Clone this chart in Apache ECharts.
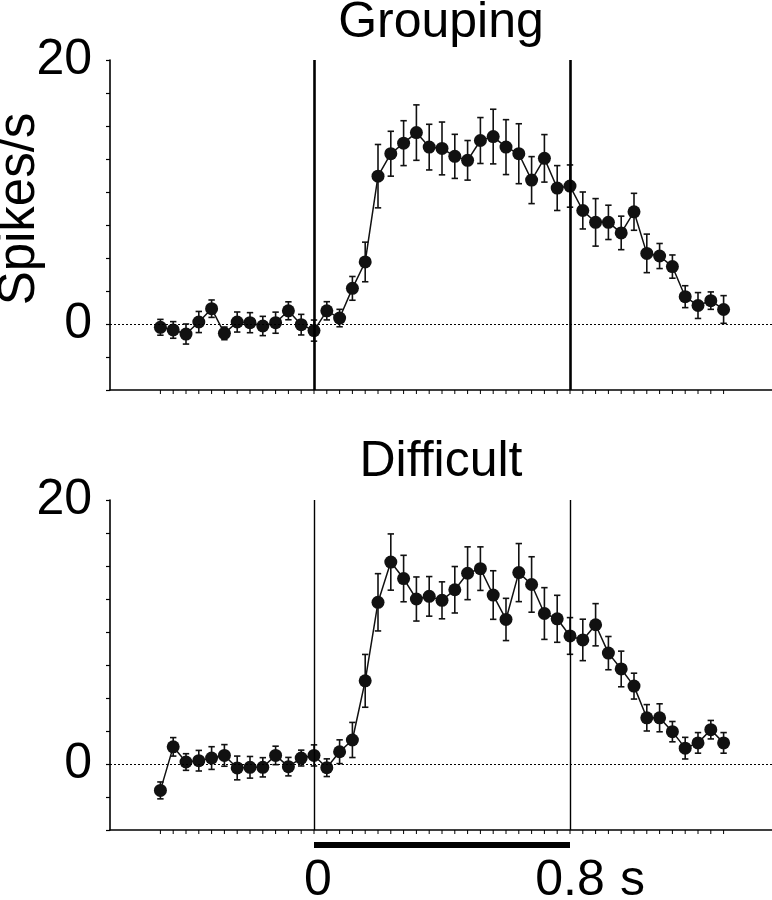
<!DOCTYPE html>
<html>
<head>
<meta charset="utf-8">
<script src="https://cdn.jsdelivr.net/npm/echarts@6/dist/echarts.min.js"></script>
<style>html,body{margin:0;padding:0;background:#fff}#c{width:772px;height:900px}</style>
</head>
<body>
<div id="c"></div>
<script>
// time (s) of each bin centre
const times = [-0.48,-0.44,-0.40,-0.36,-0.32,-0.28,-0.24,-0.20,-0.16,-0.12,-0.08,-0.04,0,
  0.04,0.08,0.12,0.16,0.20,0.24,0.28,0.32,0.36,0.40,0.44,0.48,0.52,0.56,0.60,0.64,0.68,0.72,0.76,0.80,
  0.84,0.88,0.92,0.96,1.00,1.04,1.08,1.12,1.16,1.20,1.24,1.28];

const groupingMean = [-0.25,-0.45,-0.76,0.15,1.16,-0.71,0.15,0.1,-0.15,0.1,1.0,-0.05,-0.5,
  1.0,0.45,2.7,4.7,11.2,12.9,13.7,14.5,13.4,13.3,12.7,12.4,13.9,14.2,13.4,12.9,10.9,12.55,10.3,10.45,
  8.6,7.7,7.7,6.9,8.5,5.35,5.15,4.35,2.07,1.4,1.77,1.1];
const groupingSem = [0.6,0.63,0.76,0.8,0.66,0.48,0.76,0.76,0.73,0.8,0.68,0.78,0.8,
  0.69,0.66,0.9,1.5,2.4,1.7,1.7,2.1,1.73,2.0,1.67,1.5,1.74,2.07,2.08,2.27,1.78,1.8,1.7,1.6,
  1.4,1.8,1.3,1.27,1.4,1.46,0.95,0.88,0.83,0.98,0.66,1.05];

const difficultMean = [-2.0,1.3,0.15,0.25,0.45,0.65,-0.3,-0.25,-0.25,0.65,-0.2,0.45,0.65,
  -0.28,0.93,1.82,6.3,12.25,15.3,14.05,12.5,12.7,12.4,13.2,14.45,14.8,12.8,10.95,14.5,13.6,11.4,11.0,9.7,
  9.4,10.55,8.4,7.2,5.9,3.5,3.5,2.45,1.2,1.6,2.6,1.6];
const difficultSem = [0.64,0.7,0.63,0.78,0.86,0.82,0.9,0.82,0.73,0.7,0.7,0.6,0.8,
  0.67,0.9,1.33,2.0,2.17,2.13,1.76,1.67,1.5,1.4,1.76,2.0,1.65,1.84,1.6,2.2,2.1,1.96,1.78,1.39,
  1.57,1.6,1.26,1.35,0.98,1.0,1.06,0.77,0.82,0.78,0.7,0.78];

const panelTitles = ['Grouping', 'Difficult'];
const yTickLabels = [0, 20];
const eventTimes = [0, 0.8];          // vertical markers
const stimulusBar = [[0, 0.8]];       // horizontal bar under the lower panel
const yLabel = 'Spikes/s';

const Y_MIN = -5, Y_MAX = 20;
const X_MIN = -0.6375, X_MAX = 1.43125;
const FONT = '"Liberation Sans", Arial, Helvetica, sans-serif';

const chart = echarts.init(document.getElementById('c'));

const grids = [
  {left: 110, right: 0, top: 60, height: 330},
  {left: 110, right: 0, top: 500, height: 330}
];

function xAxisCfg(i) {
  return {
    gridIndex: i, type: 'value', min: X_MIN, max: X_MAX,
    axisLine: {show: true, onZero: false, lineStyle: {color: '#000', width: 1.6}},
    axisTick: {show: false}, axisLabel: {show: false}, splitLine: {show: false}
  };
}
function yAxisCfg(i) {
  return {
    gridIndex: i, type: 'value', min: Y_MIN, max: Y_MAX, interval: 2.5,
    axisLine: {show: true, onZero: false, lineStyle: {color: '#000', width: 1.6}},
    axisTick: {show: true, length: 4, lineStyle: {color: '#000', width: 1.2}},
    axisLabel: {
      color: '#000', fontSize: 50, fontFamily: FONT, margin: 18,
      formatter: v => yTickLabels.indexOf(v) >= 0 ? String(v) : ''
    },
    splitLine: {show: false}
  };
}

function tickSeries(i) {
  return {
    type: 'custom', xAxisIndex: i, yAxisIndex: i, silent: true, clip: false, z: 1,
    data: times.map(t => [t]),
    renderItem: (params, api) => {
      const p = api.coord([api.value(0), Y_MIN]);
      return {type: 'line', shape: {x1: p[0], y1: p[1], x2: p[0], y2: p[1] + 4},
              style: {stroke: '#000', lineWidth: 1}};
    }
  };
}

function errSeries(i, mean, sem) {
  return {
    type: 'custom', xAxisIndex: i, yAxisIndex: i, silent: true, z: 2,
    data: times.map((t, k) => [t, mean[k] - sem[k], mean[k] + sem[k]]),
    renderItem: (params, api) => {
      const x = api.value(0);
      const lo = api.coord([x, api.value(1)]);
      const hi = api.coord([x, api.value(2)]);
      const c = 3.2;
      const st = {stroke: '#111', lineWidth: 1.6};
      return {type: 'group', children: [
        {type: 'line', shape: {x1: lo[0], y1: lo[1], x2: hi[0], y2: hi[1]}, style: st},
        {type: 'line', shape: {x1: hi[0] - c, y1: hi[1], x2: hi[0] + c, y2: hi[1]}, style: st},
        {type: 'line', shape: {x1: lo[0] - c, y1: lo[1], x2: lo[0] + c, y2: lo[1]}, style: st}
      ]};
    }
  };
}

function lineSeries(i, mean, vw) {
  return {
    type: 'line', xAxisIndex: i, yAxisIndex: i, z: 3,
    data: times.map((t, k) => [t, mean[k]]),
    symbol: 'circle', symbolSize: 13,
    itemStyle: {color: '#111'},
    lineStyle: {color: '#111', width: 1.5},
    markLine: {
      silent: true, symbol: ['none', 'none'], label: {show: false},
      data: [
        {yAxis: 0, lineStyle: {color: '#000', type: [2, 2], width: 1}},
        ...eventTimes.map(t => ({xAxis: t, lineStyle: {color: '#000', type: 'solid', width: vw}}))
      ]
    }
  };
}

const barSeries = {
  type: 'custom', xAxisIndex: 1, yAxisIndex: 1, silent: true, clip: false,
  data: stimulusBar,
  renderItem: (params, api) => {
    const p0 = api.coord([api.value(0), Y_MIN]);
    const p1 = api.coord([api.value(1), Y_MIN]);
    const tf = {fontSize: 50, fontFamily: FONT, fill: '#000', verticalAlign: 'top'};
    return {type: 'group', children: [
      {type: 'rect', shape: {x: p0[0], y: p0[1] + 12, width: p1[0] - p0[0], height: 6}, style: {fill: '#000'}},
      {type: 'text', x: p0[0] + 4, y: p0[1] + 26, style: Object.assign({text: String(api.value(0)), align: 'center'}, tf)},
      {type: 'text', x: p1[0], y: p1[1] + 26, style: Object.assign({text: String(api.value(1)), align: 'center'}, tf)},
      {type: 'text', x: p1[0] + 50, y: p1[1] + 26, style: Object.assign({text: 's', align: 'left'}, tf)}
    ]};
  }
};

const centerX = 110 + (772 - 110) / 2;

chart.setOption({
  animation: false,
  backgroundColor: '#fff',
  grid: grids,
  xAxis: [xAxisCfg(0), xAxisCfg(1)],
  yAxis: [yAxisCfg(0), yAxisCfg(1)],
  graphic: [
    {type: 'text', x: centerX, y: -2, style: {text: panelTitles[0], font: '50px ' + FONT, fill: '#000', align: 'center', verticalAlign: 'top'}},
    {type: 'text', x: centerX, y: 437, style: {text: panelTitles[1], font: '50px ' + FONT, fill: '#000', align: 'center', verticalAlign: 'top'}},
    {type: 'text', x: 20, y: 209, rotation: Math.PI / 2, style: {text: yLabel, font: '51px ' + FONT, fill: '#000', align: 'center', verticalAlign: 'middle'}}
  ],
  series: [
    tickSeries(0), errSeries(0, groupingMean, groupingSem), lineSeries(0, groupingMean, 2.6),
    tickSeries(1), errSeries(1, difficultMean, difficultSem), lineSeries(1, difficultMean, 1.4),
    barSeries
  ]
});
</script>
</body>
</html>
